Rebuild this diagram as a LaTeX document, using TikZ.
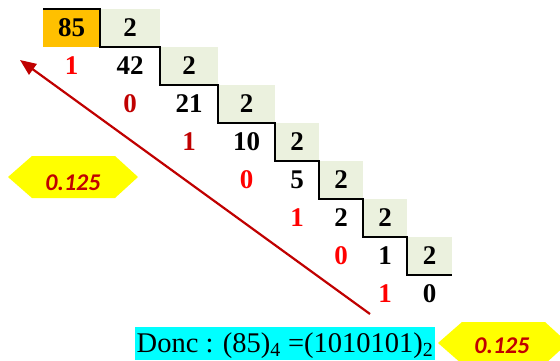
\documentclass[tikz,border=0pt]{standalone}
\usepackage{fontspec}
\setmainfont{Liberation Serif}
\newfontfamily\badgefont{Carlito}
\usetikzlibrary{arrows.meta}

\definecolor{cellgreen}{RGB}{235,241,222}
\definecolor{cellorange}{RGB}{255,192,0}
\definecolor{darkred}{RGB}{192,0,0}
\definecolor{boxcyan}{RGB}{0,255,255}
\definecolor{badgeyellow}{RGB}{255,255,0}

\tikzset{
  num/.style={font=\fontsize{27}{27}\selectfont\bfseries, inner sep=0pt},
  rembright/.style={num, text=red},
  remdark/.style={num, text=darkred},
  badgetext/.style={font=\badgefont\fontsize{24}{24}\selectfont\bfseries\itshape, text=darkred, inner sep=0pt}
}

\begin{document}
\begin{tikzpicture}[x=1pt,y=-1pt]

\useasboundingbox (0,0) rectangle (560,360);

\fill[cellorange] (43,9) rectangle (100,47);
\fill[cellgreen] (100,9) rectangle (160,47);
\fill[cellgreen] (160,47) rectangle (218,85);
\fill[cellgreen] (218,85) rectangle (275,123);
\fill[cellgreen] (275,123) rectangle (319,161);
\fill[cellgreen] (319,161) rectangle (363,199);
\fill[cellgreen] (363,199) rectangle (407,237);
\fill[cellgreen] (407,237) rectangle (452,275);

\draw[line width=2.4pt] (43,9) -- (100,9) -- (100,47) -- (160,47) -- (160,85)
  -- (218,85) -- (218,123) -- (275,123) -- (275,161) -- (319,161) -- (319,199)
  -- (363,199) -- (363,237) -- (407,237) -- (407,275) -- (452,275);

\node[num] (q0) at (71.5,28) {85};
\node[num] (d0) at (130,28) {2};

\node[rembright] (r1) at (71.5,66) {1};
\node[num] (q1) at (130,66) {42};
\node[num] (d1) at (189,66) {2};

\node[remdark] (r2) at (130,104) {0};
\node[num] (q2) at (189,104) {21};
\node[num] (d2) at (246.5,104) {2};

\node[remdark] (r3) at (189,142) {1};
\node[num] (q3) at (246.5,142) {10};
\node[num] (d3) at (297,142) {2};

\node[rembright] (r4) at (246.5,180) {0};
\node[num] (q4) at (297,180) {5};
\node[num] (d4) at (341,180) {2};

\node[rembright] (r5) at (297,218) {1};
\node[num] (q5) at (341,218) {2};
\node[num] (d5) at (385,218) {2};

\node[rembright] (r6) at (341,256) {0};
\node[num] (q6) at (385,256) {1};
\node[num] (d6) at (429.5,256) {2};

\node[rembright] (r7) at (385,294) {1};
\node[num] (q7) at (429.5,294) {0};

\coordinate (arrowstart) at (370,314);
\coordinate (arrowend) at (20,60);
\draw[darkred, line width=2.2pt, -{Triangle[length=16pt,width=13pt]}] (arrowstart) -- (arrowend);

% badges
\fill[badgeyellow] (8,177) -- (32,156) -- (115,156) -- (138,177) -- (115,198) -- (32,198) -- cycle;
\node[badgetext] (score1) at (73,183) {0.125};

\fill[badgeyellow] (438,343) -- (462,322) -- (545,322) -- (568,343) -- (545,364) -- (462,364) -- cycle;
\node[badgetext] (score2) at (502,346) {0.125};

\node[fill=boxcyan, inner sep=0pt, text height=25pt, text depth=8pt, minimum width=300pt,
  font=\fontsize{28.5}{28.5}\selectfont] (result) at (285,343.5)
  {Donc : (85)\textsubscript{4} =(1010101)\textsubscript{2}};

\end{tikzpicture}
\end{document}
